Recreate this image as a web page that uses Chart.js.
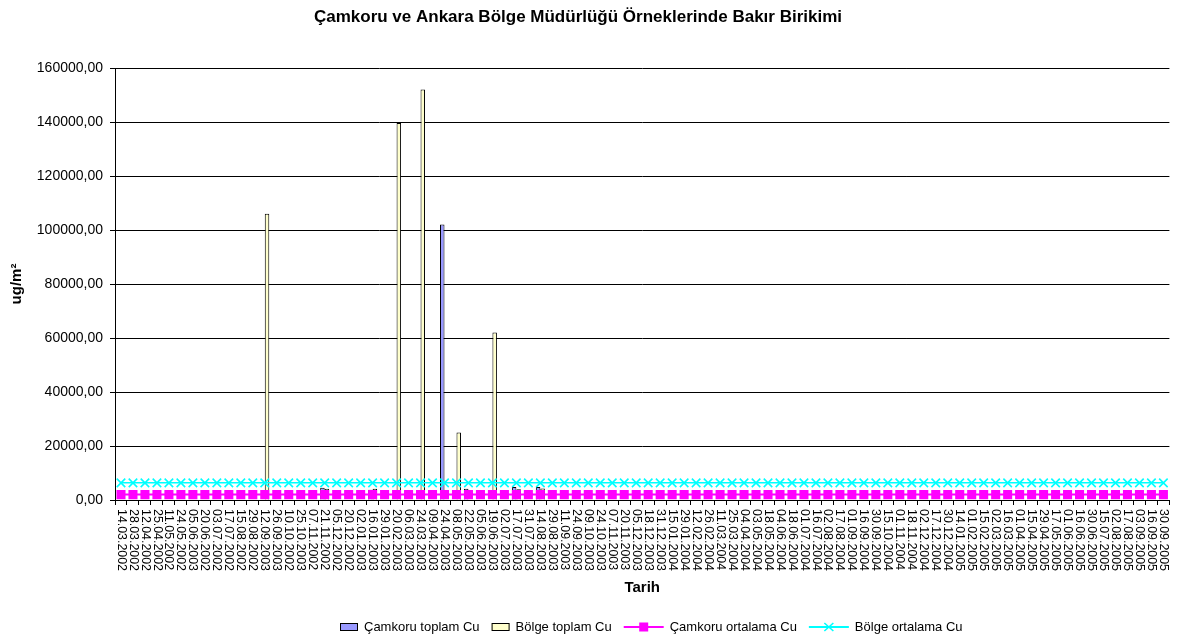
<!DOCTYPE html>
<html>
<head>
<meta charset="utf-8">
<script src="https://cdn.jsdelivr.net/npm/chart.js@4.4.0/dist/chart.umd.min.js"></script>
<style>
  html, body { margin: 0; padding: 0; background: #fff; }
  #kutu { width: 1177px; height: 637px; }
</style>
</head>
<body>
<div id="kutu"><canvas id="grafik" width="1177" height="637"></canvas></div>
<script>
// kategori etiketleri (tarih)
const tarihler = [
  '14.03.2002','28.03.2002','12.04.2002','25.04.2002','11.05.2002','24.05.2002','05.06.2003','20.06.2002','03.07.2002','17.07.2002',
  '15.08.2002','29.08.2002','12.09.2003','26.09.2003','10.10.2002','25.10.2003','07.11.2002','21.11.2002','05.12.2002','20.12.2002',
  '02.01.2003','16.01.2003','29.01.2003','20.02.2003','06.03.2003','24.03.2003','09.04.2003','24.04.2003','08.05.2003','22.05.2003',
  '05.06.2003','19.06.2003','02.07.2003','17.07.2003','31.07.2003','14.08.2003','29.08.2003','11.09.2003','24.09.2003','09.10.2003',
  '24.10.2003','07.11.2003','20.11.2003','05.12.2003','18.12.2003','31.12.2003','15.01.2004','29.01.2004','12.02.2004','26.02.2004',
  '11.03.2004','25.03.2004','04.04.2004','03.05.2004','18.05.2004','04.06.2004','18.06.2004','01.07.2004','16.07.2004','02.08.2004',
  '17.08.2004','01.09.2004','16.09.2004','30.09.2004','15.10.2004','01.11.2004','18.11.2004','02.12.2004','17.12.2004','30.12.2004',
  '14.01.2005','01.02.2005','15.02.2005','02.03.2005','16.03.2005','01.04.2005','15.04.2005','29.04.2005','17.05.2005','01.06.2005',
  '16.06.2005','30.06.2005','15.07.2005','02.08.2005','17.08.2005','03.09.2005','16.09.2005','30.09.2005'
];

// toplam Cu degerleri (ug/m2), bos hucreler null
const camkoruToplam = [
  null, null, null, null, null, null, null, null, null, null, null,
  null, null, null, null, null, null, 4500, null, null, null, 3800,
  null, null, null, null, null, 102000, null, 4200, null, null, null,
  4800, null, 4800, null, null, null, null, null, null, null, null,
  null, null, null, null, null, null, null, null, null, null, null,
  null, null, null, null, null, null, null, null, null, null, null,
  null, null, null, null, null, null, null, null, null, null, null,
  null, null, null, null, null, null, null, null, null, null, null
];
const bolgeToplam = [
  null, null, null, null, null, null, null, null, null, null, null,
  null, 106000, null, null, null, null, 4200, null, null, null, 4200,
  null, 139600, null, 152000, null, null, 25000, null, null, 62000, null,
  4000, null, 4300, null, null, null, null, null, null, null, null,
  null, null, null, null, null, null, null, null, null, null, null,
  null, null, null, null, null, null, null, null, null, null, null,
  null, null, null, null, null, null, null, null, null, null, null,
  null, null, null, null, null, null, null, null, null, null, null
];

// ortalama Cu degerleri
const camkoruOrtalama = [
  2000, 2000, 2000, 2000, 2000, 2000, 2000, 2000, 2000, 2000, 2000,
  2000, 2000, 2000, 2000, 2000, 2000, 2000, 2000, 2000, 2000, 2000,
  2000, 2000, 2000, 2000, 2000, 2000, 2000, 2000, 2000, 2000, 2000,
  2000, 2000, 2000, 2000, 2000, 2000, 2000, 2000, 2000, 2000, 2000,
  2000, 2000, 2000, 2000, 2000, 2000, 2000, 2000, 2000, 2000, 2000,
  2000, 2000, 2000, 2000, 2000, 2000, 2000, 2000, 2000, 2000, 2000,
  2000, 2000, 2000, 2000, 2000, 2000, 2000, 2000, 2000, 2000, 2000,
  2000, 2000, 2000, 2000, 2000, 2000, 2000, 2000, 2000, 2000, 2000
];
const bolgeOrtalama = [
  6350, 6350, 6350, 6350, 6350, 6350, 6350, 6350, 6350, 6350, 6350,
  6350, 6350, 6350, 6350, 6350, 6350, 6350, 6350, 6350, 6350, 6350,
  6350, 6350, 6350, 6350, 6350, 6350, 6350, 6350, 6350, 6350, 6350,
  6350, 6350, 6350, 6350, 6350, 6350, 6350, 6350, 6350, 6350, 6350,
  6350, 6350, 6350, 6350, 6350, 6350, 6350, 6350, 6350, 6350, 6350,
  6350, 6350, 6350, 6350, 6350, 6350, 6350, 6350, 6350, 6350, 6350,
  6350, 6350, 6350, 6350, 6350, 6350, 6350, 6350, 6350, 6350, 6350,
  6350, 6350, 6350, 6350, 6350, 6350, 6350, 6350, 6350, 6350, 6350
];

const yMin = 0;
const yMax = 160000;
const yAdim = 20000;

const baslik = 'Çamkoru ve Ankara Bölge Müdürlüğü Örneklerinde Bakır Birikimi';
const yazi = '"Liberation Sans", Arial, sans-serif';

// grafik basligi
const baslikCiz = {
  id: 'baslikCiz',
  afterDraw(chart) {
    const ctx = chart.ctx;
    ctx.save();
    ctx.font = 'bold 17px ' + yazi;
    ctx.fillStyle = '#000';
    ctx.textAlign = 'center';
    ctx.textBaseline = 'middle';
    ctx.fillText(baslik, 578, 17.5);
    ctx.restore();
  }
};

// x etiketleri saat yonunde dondurulmus (yukaridan asagi okunur)
const xEtiketleri = {
  id: 'xEtiketleri',
  afterDraw(chart) {
    const x = chart.scales.x;
    const ctx = chart.ctx;
    ctx.save();
    ctx.font = '12.4px ' + yazi;
    ctx.fillStyle = '#000';
    ctx.textAlign = 'left';
    ctx.textBaseline = 'middle';
    chart.data.labels.forEach((etiket, i) => {
      ctx.save();
      ctx.translate(x.getPixelForValue(i), x.top + 9);
      ctx.rotate(Math.PI / 2);
      ctx.fillText(etiket, 0, 0);
      ctx.restore();
    });
    ctx.restore();
  }
};

// Excel tarzi lejant
const lejant = {
  id: 'lejant',
  afterDraw(chart) {
    const ctx = chart.ctx;
    const ds = chart.data.datasets;
    const y = 627;
    ctx.save();
    ctx.font = '13px ' + yazi;
    ctx.textBaseline = 'middle';
    ctx.textAlign = 'left';
    const anahtar = d => d.type === 'line' ? 40 : 18;
    let x = 340;
    ds.forEach(d => {
      const w = anahtar(d);
      if (d.type === 'line') {
        const cx = x + w / 2;
        ctx.strokeStyle = d.borderColor;
        ctx.lineWidth = 2;
        ctx.beginPath();
        ctx.moveTo(x, y);
        ctx.lineTo(x + w, y);
        ctx.stroke();
        if (d.pointStyle === 'rect') {
          ctx.fillStyle = d.pointBackgroundColor;
          ctx.fillRect(cx - 4.5, y - 4.5, 9, 9);
        } else {
          ctx.lineWidth = d.pointBorderWidth;
          ctx.beginPath();
          ctx.moveTo(cx - 4.5, y - 4); ctx.lineTo(cx + 4.5, y + 4);
          ctx.moveTo(cx + 4.5, y - 4); ctx.lineTo(cx - 4.5, y + 4);
          ctx.stroke();
        }
      } else {
        ctx.fillStyle = d.backgroundColor;
        ctx.fillRect(x, y - 4, w, 8);
        ctx.strokeStyle = '#000';
        ctx.lineWidth = 1;
        ctx.strokeRect(x + 0.5, y - 3.5, w - 1, 7);
      }
      ctx.fillStyle = '#000';
      ctx.fillText(d.label, x + w + 6, y);
      x += w + 6 + ctx.measureText(d.label).width + 12;
    });
    ctx.restore();
  }
};

new Chart(document.getElementById('grafik'), {
  type: 'bar',
  data: {
    labels: tarihler,
    datasets: [
      {
        label: 'Çamkoru toplam Cu',
        data: camkoruToplam,
        backgroundColor: '#9999FF',
        borderColor: '#000',
        borderWidth: 1,
        categoryPercentage: 0.75,
        barPercentage: 1,
        order: 2
      },
      {
        label: 'Bölge toplam Cu',
        data: bolgeToplam,
        backgroundColor: '#FFFFCC',
        borderColor: '#000',
        borderWidth: 1,
        categoryPercentage: 0.75,
        barPercentage: 1,
        order: 2
      },
      {
        type: 'line',
        label: 'Çamkoru ortalama Cu',
        data: camkoruOrtalama,
        borderColor: '#FF00FF',
        borderWidth: 2,
        pointStyle: 'rect',
        pointRadius: 6.4,
        pointBackgroundColor: '#FF00FF',
        pointBorderColor: '#FF00FF',
        pointBorderWidth: 0,
        order: 1
      },
      {
        type: 'line',
        label: 'Bölge ortalama Cu',
        data: bolgeOrtalama,
        borderColor: '#00FFFF',
        borderWidth: 1.5,
        pointStyle: 'crossRot',
        pointRadius: 6,
        pointBorderColor: '#00FFFF',
        pointBorderWidth: 1.6,
        order: 0
      }
    ]
  },
  options: {
    responsive: false,
    animation: false,
    devicePixelRatio: 1,
    layout: { padding: { left: 0, right: 6, top: 68, bottom: 0 } },
    plugins: {
      legend: { display: false },
      tooltip: { enabled: false },
      title: { display: false }
    },
    scales: {
      x: {
        grid: { drawOnChartArea: false, drawTicks: true, tickLength: 5, color: '#000' },
        border: { color: '#000', width: 1 },
        ticks: { display: false, autoSkip: false },
        title: {
          display: true,
          text: 'Tarih',
          color: '#000',
          font: { family: yazi, size: 15, weight: 'bold' },
          padding: { top: 0, bottom: 40 }
        },
        afterFit(scale) { scale.height = 137; }
      },
      y: {
        min: yMin,
        max: yMax,
        grid: { color: '#000', lineWidth: 1, tickLength: 5 },
        border: { color: '#000', width: 1 },
        ticks: {
          stepSize: yAdim,
          color: '#000',
          padding: 7,
          font: { family: yazi, size: 14 },
          callback: v => v.toFixed(2).replace('.', ',')
        },
        title: {
          display: true,
          text: 'ug/m²',
          color: '#000',
          font: { family: yazi, size: 15, weight: 'bold' },
          padding: { top: 8, bottom: 0 }
        },
        afterFit(scale) { scale.width = 115; }
      }
    }
  },
  plugins: [baslikCiz, xEtiketleri, lejant]
});
</script>
</body>
</html>
